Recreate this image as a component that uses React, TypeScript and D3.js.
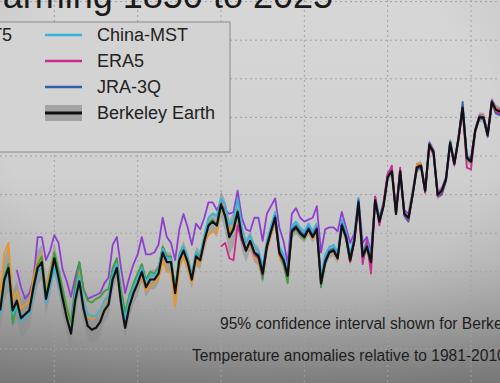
import React from "react";
import * as d3 from "d3";

const W = 500;
const H = 383;

// Annual temperature anomalies (°C), relative to 1981-2010
const startYear = 1887;
const berkeley = [
  -0.80,-0.64,-0.58,-0.80,-0.75,-0.84,-0.82,-0.80,-0.68,-0.58,
  -0.55,-0.74,-0.64,-0.53,-0.63,-0.74,-0.84,-0.92,-0.75,-0.65,
  -0.79,-0.88,-0.90,-0.89,-0.86,-0.80,-0.77,-0.64,-0.58,-0.76,
  -0.89,-0.78,-0.71,-0.66,-0.60,-0.68,-0.64,-0.64,-0.61,-0.50,
  -0.55,-0.55,-0.71,-0.54,-0.49,-0.55,-0.64,-0.52,-0.54,-0.44,
  -0.36,-0.34,-0.36,-0.25,-0.31,-0.42,-0.38,-0.29,-0.42,-0.49,
  -0.44,-0.50,-0.52,-0.61,-0.47,-0.39,-0.32,-0.50,-0.54,-0.62,
  -0.39,-0.37,-0.40,-0.42,-0.38,-0.42,-0.38,-0.66,-0.55,-0.50,
  -0.49,-0.53,-0.36,-0.42,-0.54,-0.44,-0.24,-0.52,-0.47,-0.55,
  -0.23,-0.34,-0.26,-0.11,-0.08,-0.30,-0.08,-0.30,-0.32,-0.20,
  -0.06,-0.05,-0.18,0.06,0.02,-0.20,-0.18,-0.12,0.07,-0.04,
  0.09,0.25,-0.01,-0.03,0.13,0.20,0.20,0.11,0.28,0.24,
  0.23,
];
// 95% confidence half-width for Berkeley Earth
const berkeleyCI = [
  0.11,0.11,0.12,0.10,0.10,0.10,0.10,0.09,0.09,0.09,
  0.09,0.09,0.08,0.08,0.08,0.08,0.08,0.08,0.08,0.07,
  0.07,0.07,0.07,0.07,0.07,0.06,0.06,0.06,0.06,0.06,
  0.06,0.06,0.06,0.06,0.05,0.05,0.05,0.05,0.05,0.05,
  0.05,0.05,0.05,0.05,0.05,0.05,0.05,0.05,0.05,0.05,
  0.05,0.05,0.06,0.07,0.08,0.09,0.09,0.08,0.07,0.06,
  0.05,0.05,0.05,0.05,0.04,0.04,0.04,0.04,0.04,0.04,
  0.035,0.035,0.03,0.03,0.03,0.03,0.03,0.03,0.03,0.03,
  0.03,0.03,0.03,0.03,0.03,0.03,0.03,0.03,0.03,0.03,
  0.025,0.025,0.025,0.025,0.025,0.025,0.025,0.025,0.025,0.025,
  0.025,0.025,0.025,0.025,0.025,0.025,0.025,0.025,0.025,0.025,
  0.025,0.025,0.025,0.025,0.025,0.025,0.025,0.025,0.025,0.025,
  0.025,
];
const hadcrut5 = [
  -0.72,-0.50,-0.45,-0.75,-0.70,-0.79,-0.77,-0.76,-0.63,-0.54,
  -0.51,-0.70,-0.60,-0.50,-0.60,-0.71,-0.81,-0.88,-0.70,-0.61,
  -0.74,-0.82,-0.85,-0.83,-0.81,-0.76,-0.74,-0.62,-0.56,-0.73,
  -0.86,-0.76,-0.70,-0.67,-0.62,-0.70,-0.67,-0.66,-0.64,-0.54,
  -0.60,-0.60,-0.78,-0.58,-0.52,-0.58,-0.66,-0.55,-0.56,-0.45,
  -0.41,-0.39,-0.40,-0.25,-0.26,-0.39,-0.36,-0.28,-0.40,-0.49,
  -0.46,-0.52,-0.55,-0.63,-0.49,-0.41,-0.34,-0.52,-0.56,-0.65,
  -0.38,-0.37,-0.40,-0.43,-0.38,-0.43,-0.38,-0.65,-0.55,-0.51,
  -0.49,-0.54,-0.35,-0.42,-0.55,-0.44,-0.23,-0.52,-0.46,-0.55,
  -0.22,-0.34,-0.25,-0.10,-0.08,-0.29,-0.08,-0.30,-0.31,-0.19,
  -0.04,-0.04,-0.18,0.06,0.03,-0.20,-0.19,-0.12,0.08,-0.04,
  0.10,0.24,-0.01,-0.02,0.13,0.20,0.21,0.10,0.28,0.25,
  0.23,
];
const noaa = [
  -0.80,-0.63,-0.56,-0.87,-0.77,-0.85,-0.82,-0.80,-0.67,-0.56,
  -0.52,-0.72,-0.62,-0.50,-0.59,-0.69,-0.79,-0.86,-0.67,-0.55,
  -0.69,-0.75,-0.76,-0.74,-0.73,-0.70,-0.69,-0.58,-0.53,-0.69,
  -0.81,-0.72,-0.66,-0.61,-0.56,-0.64,-0.60,-0.61,-0.58,-0.47,
  -0.52,-0.52,-0.69,-0.51,-0.47,-0.53,-0.62,-0.50,-0.52,-0.42,
  -0.35,-0.33,-0.36,-0.25,-0.32,-0.42,-0.37,-0.28,-0.42,-0.49,
  -0.44,-0.51,-0.53,-0.64,-0.47,-0.40,-0.33,-0.50,-0.56,-0.66,
  -0.40,-0.38,-0.41,-0.43,-0.38,-0.42,-0.39,-0.68,-0.56,-0.50,
  -0.49,-0.53,-0.36,-0.43,-0.55,-0.44,-0.24,-0.53,-0.48,-0.57,
  -0.23,-0.34,-0.26,-0.11,-0.08,-0.30,-0.09,-0.30,-0.32,-0.20,
  -0.06,-0.05,-0.18,0.06,0.01,-0.20,-0.18,-0.12,0.07,-0.04,
  0.09,0.25,-0.02,-0.03,0.13,0.19,0.20,0.10,0.27,0.22,
  0.22,
];
const chinaMST = [
  -0.82,-0.66,-0.59,-0.82,-0.78,-0.86,-0.83,-0.82,-0.71,-0.60,
  -0.58,-0.76,-0.67,-0.58,-0.66,-0.75,-0.84,-0.90,-0.72,-0.62,
  -0.75,-0.82,-0.83,-0.83,-0.80,-0.75,-0.73,-0.61,-0.56,-0.73,
  -0.85,-0.74,-0.68,-0.63,-0.58,-0.65,-0.62,-0.62,-0.59,-0.48,
  -0.53,-0.53,-0.70,-0.52,-0.47,-0.53,-0.62,-0.50,-0.51,-0.41,
  -0.32,-0.30,-0.31,-0.22,-0.25,-0.36,-0.33,-0.22,-0.37,-0.45,
  -0.41,-0.47,-0.49,-0.57,-0.44,-0.36,-0.29,-0.47,-0.51,-0.59,
  -0.36,-0.34,-0.37,-0.39,-0.35,-0.39,-0.35,-0.62,-0.51,-0.47,
  -0.46,-0.50,-0.33,-0.39,-0.51,-0.41,-0.22,-0.49,-0.44,-0.52,
  -0.22,-0.32,-0.25,-0.11,-0.08,-0.29,-0.08,-0.29,-0.32,-0.19,
  -0.06,-0.05,-0.17,0.06,0.02,-0.21,-0.20,-0.12,0.08,-0.04,
  0.10,0.26,0.00,-0.01,0.13,0.20,0.20,0.11,0.27,0.23,
  0.22,
];
const jmaStart = 1891;
const jma = [
  -0.59,-0.68,-0.74,-0.71,-0.64,-0.42,
  -0.42,-0.54,-0.49,-0.41,-0.45,-0.59,-0.65,-0.73,-0.63,-0.55,
  -0.69,-0.74,-0.73,-0.72,-0.71,-0.66,-0.63,-0.46,-0.42,-0.58,
  -0.71,-0.63,-0.56,-0.51,-0.42,-0.51,-0.51,-0.50,-0.46,-0.32,
  -0.42,-0.45,-0.54,-0.38,-0.30,-0.37,-0.46,-0.35,-0.38,-0.32,
  -0.24,-0.24,-0.28,-0.24,-0.28,-0.30,-0.29,-0.18,-0.32,-0.38,
  -0.39,-0.32,-0.32,-0.44,-0.30,-0.26,-0.22,-0.37,-0.44,-0.56,
  -0.30,-0.27,-0.32,-0.34,-0.33,-0.32,-0.26,-0.50,-0.38,-0.37,
  -0.37,-0.39,-0.29,-0.37,-0.45,-0.40,-0.22,-0.45,-0.42,-0.50,
  -0.21,-0.32,-0.24,-0.09,-0.06,-0.28,-0.07,-0.28,-0.30,-0.18,
  -0.05,-0.04,-0.17,0.07,0.03,-0.19,-0.17,-0.11,0.08,-0.03,
  0.10,0.26,0.00,-0.02,0.14,0.21,0.21,0.12,0.29,0.25,
  0.24,
];
const era5Start = 1940;
const era5 = [
  -0.47,-0.45,-0.53,-0.54,-0.36,-0.44,-0.49,
  -0.44,-0.51,-0.53,-0.62,-0.47,-0.39,-0.33,-0.51,-0.54,-0.62,
  -0.39,-0.37,-0.40,-0.42,-0.38,-0.42,-0.37,-0.66,-0.55,-0.50,
  -0.49,-0.53,-0.36,-0.42,-0.55,-0.44,-0.25,-0.56,-0.44,-0.61,
  -0.21,-0.36,-0.25,-0.10,-0.05,-0.30,-0.06,-0.30,-0.33,-0.20,
  -0.06,-0.05,-0.19,0.05,0.01,-0.21,-0.19,-0.12,0.06,-0.05,
  0.08,0.24,-0.06,-0.07,0.12,0.20,0.20,0.11,0.27,0.23,
  0.22,
];
const jra3qStart = 1948;
const jra3q = [
  -0.50,-0.51,-0.60,-0.46,-0.39,-0.31,-0.49,-0.54,-0.61,
  -0.38,-0.36,-0.39,-0.41,-0.37,-0.41,-0.37,-0.65,-0.54,-0.49,
  -0.48,-0.52,-0.35,-0.41,-0.53,-0.43,-0.23,-0.51,-0.46,-0.54,
  -0.22,-0.33,-0.25,-0.10,-0.07,-0.29,-0.08,-0.31,-0.34,-0.20,
  -0.07,-0.06,-0.19,0.05,0.03,-0.21,-0.20,-0.13,0.06,-0.04,
  0.09,0.28,-0.01,-0.01,0.13,0.20,0.19,0.10,0.28,0.22,
  0.21,
];

const xGridYears = [1880, 1900, 1920, 1940, 1960, 1980, 2000, 2020];
const yGridValues = [-1.0, -0.8, -0.6, -0.4, -0.2, 0, 0.2, 0.4, 0.6, 0.8];

const titleText = "Global Warming 1850 to 2025";
const noteLine1 = "95% confidence interval shown for Berkeley Earth";
const noteLine2 = "Temperature anomalies relative to 1981-2010 average";

const seriesList = [
  { name: "JMA", start: jmaStart, values: jma, color: "#8e3fd2" },
  { name: "HadCRUT5", start: startYear, values: hadcrut5, color: "#e8952a" },
  { name: "NOAA", start: startYear, values: noaa, color: "#3c9e3c" },
  { name: "China-MST", start: startYear, values: chinaMST, color: "#35b4de" },
  { name: "JRA-3Q", start: jra3qStart, values: jra3q, color: "#2d62a8" },
  { name: "ERA5", start: era5Start, values: era5, color: "#cc2a8c" },
];

const legendLeft = [
  { name: "HadCRUT5", color: "#e8952a" },
  { name: "NOAA", color: "#3c9e3c" },
  { name: "JMA", color: "#8e3fd2" },
];
const legendRight = [
  { name: "China-MST", color: "#35b4de" },
  { name: "ERA5", color: "#cc2a8c" },
  { name: "JRA-3Q", color: "#2d62a8" },
];

export default function App() {
  const x = d3.scaleLinear().domain([1940, 2000]).range([221, 471]);
  const y = d3.scaleLinear().domain([-1.0, 0.8]).range([349, 1.6]);

  const band = d3
    .area<number>()
    .x((_, i) => x(startYear + i))
    .y0((d, i) => y(d - berkeleyCI[i]))
    .y1((d, i) => y(d + berkeleyCI[i]));

  const makeLine = (start: number) =>
    d3
      .line<number>()
      .x((_, i) => x(start + i))
      .y((d) => y(d));

  const font = "'Liberation Sans', Arial, Helvetica, sans-serif";
  const rowY = (i: number) => 35 + i * 26;

  return (
    <svg
      width={W}
      height={H}
      style={{ position: "absolute", left: 0, top: 0, display: "block" }}
      fontFamily={font}
    >
      <defs>
        <linearGradient id="bg" x1="0" y1="0" x2="0" y2="1">
          <stop offset="0" stopColor="#d7d7d7" />
          <stop offset="0.45" stopColor="#d0d0d0" />
          <stop offset="0.68" stopColor="#c0c0c0" />
          <stop offset="0.85" stopColor="#a5a5a5" />
          <stop offset="1" stopColor="#868686" />
        </linearGradient>
        <radialGradient id="vig" cx="0.5" cy="0.35" r="0.8">
          <stop offset="0.6" stopColor="#000" stopOpacity="0" />
          <stop offset="1" stopColor="#000" stopOpacity="0.12" />
        </radialGradient>
      </defs>
      <rect x={0} y={0} width={W} height={H} fill="url(#bg)" />
      <rect x={0} y={0} width={W} height={H} fill="url(#vig)" />

      {/* grid */}
      <g stroke="#a2a2a2" strokeWidth={1} strokeDasharray="2,3">
        {xGridYears.map((yr) => (
          <line key={"vx" + yr} x1={x(yr)} x2={x(yr)} y1={0} y2={H} />
        ))}
        {yGridValues.map((v) => (
          <line key={"hy" + v} x1={0} x2={W} y1={y(v)} y2={y(v)} />
        ))}
      </g>

      {/* confidence band */}
      <path d={band(berkeley) || ""} fill="#8a8a8a" fillOpacity={0.55} />

      {seriesList.map((s) => (
        <path
          key={s.name}
          d={makeLine(s.start)(s.values) || ""}
          fill="none"
          stroke={s.color}
          strokeWidth={1.8}
          strokeLinejoin="round"
        />
      ))}
      <path
        d={makeLine(startYear)(berkeley) || ""}
        fill="none"
        stroke="#111"
        strokeWidth={2.2}
        strokeLinejoin="round"
      />

      {/* title */}
      <text x={333} y={8} textAnchor="end" fontSize={36} fill="#1a1a1a">
        {titleText}
      </text>

      {/* legend */}
      <rect x={-200} y={22} width={430} height={130} fill="#d3d3d3" stroke="#8a8a8a" strokeWidth={1} />
      {legendLeft.map((d, i) => (
        <g key={d.name}>
          <line x1={-133} x2={-96} y1={rowY(i)} y2={rowY(i)} stroke={d.color} strokeWidth={2.5} />
          <text x={-81} y={rowY(i) + 6} fontSize={18} fill="#222">
            {d.name}
          </text>
        </g>
      ))}
      {legendRight.map((d, i) => (
        <g key={d.name}>
          <line x1={45} x2={82} y1={rowY(i)} y2={rowY(i)} stroke={d.color} strokeWidth={2.5} />
          <text x={97} y={rowY(i) + 6} fontSize={18} fill="#222">
            {d.name}
          </text>
        </g>
      ))}
      <rect x={45} y={rowY(3) - 8} width={37} height={16} fill="#a3a3a3" />
      <line x1={45} x2={82} y1={rowY(3)} y2={rowY(3)} stroke="#111" strokeWidth={3} />
      <text x={97} y={rowY(3) + 6} fontSize={18} fill="#222">
        Berkeley Earth
      </text>

      {/* notes */}
      <text x={220} y={329} fontSize={15.6} fill="#1e1e1e">
        {noteLine1}
      </text>
      <text x={192} y={361} fontSize={15.6} fill="#1e1e1e">
        {noteLine2}
      </text>
    </svg>
  );
}
